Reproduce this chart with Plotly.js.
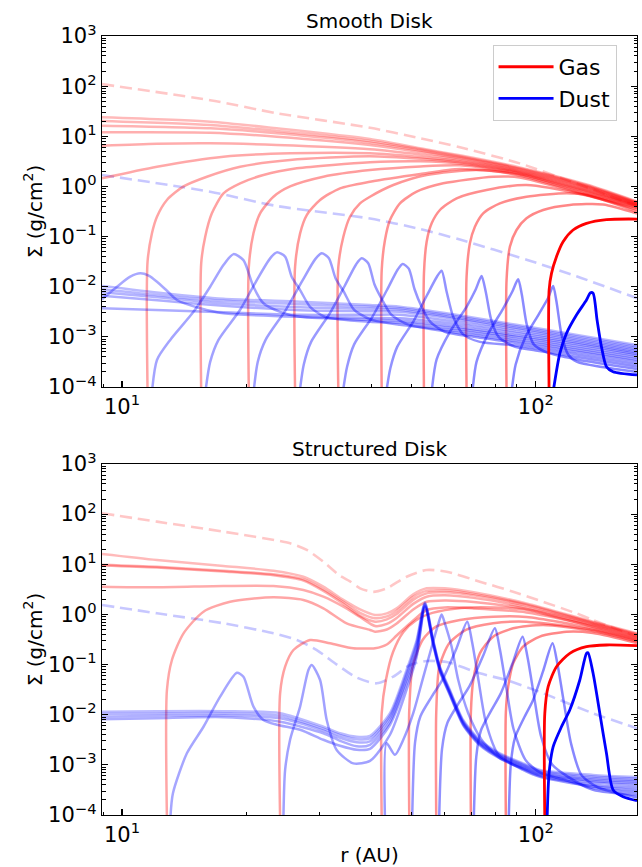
<!DOCTYPE html>
<html>
<head>
<meta charset="utf-8">
<script src="https://cdn.plot.ly/plotly-3.0.1.min.js"></script>
<style>
html,body{margin:0;padding:0;background:#fff;}
#chart{width:642px;height:867px;}
</style>
</head>
<body>
<div id="chart"></div>
<script>
// All values.
// Each point is [log10(r / AU), log10(Sigma / g cm^-2)].

const panelTitles = ['Smooth Disk', 'Structured Disk'];
const legendLabels = ['Gas', 'Dust'];
const yTickVals = [1e-4, 1e-3, 1e-2, 1e-1, 1, 10, 100, 1000];
const yTickText = ['10<sup>\u22124</sup>', '10<sup>\u22123</sup>', '10<sup>\u22122</sup>', '10<sup>\u22121</sup>', '10<sup>0</sup>', '10<sup>1</sup>', '10<sup>2</sup>', '10<sup>3</sup>'];
const xTickVals = [10, 100];
const xTickText = ['10<sup>1</sup>', '10<sup>2</sup>'];

// ---------- Smooth disk ----------
const smoothGasInitial = [[0.9517,2.04],[1.2131,1.72],[1.3741,1.46],[1.5993,1.17],[1.721,0.96],[1.8165,0.78],[1.961,0.46],[2.0982,0.06],[2.2445,-0.40]];
const smoothDustInitial = [[0.9517,0.228],[1.2131,-0.105],[1.3741,-0.39],[1.5993,-0.64],[1.721,-0.85],[1.8165,-1.06],[1.9775,-1.46],[2.0982,-1.79],[2.2445,-2.23]];

const smoothGasProfiles = [
 [[0.9517,1.378],[1.2131,1.291],[1.3741,1.159],[1.5993,0.946],[1.721,0.76],[1.8165,0.62],[1.961,0.38],[2.1229,0.04],[2.2445,-0.30]],
 [[0.9517,1.305],[1.2131,1.225],[1.3741,1.105],[1.5993,0.906],[1.721,0.74],[1.8165,0.60],[1.961,0.365],[2.1229,0.025],[2.2445,-0.31]],
 [[0.9517,1.211],[1.2131,1.159],[1.3741,1.06],[1.5993,0.872],[1.721,0.715],[1.8165,0.58],[1.961,0.35],[2.1229,0.01],[2.2445,-0.32]],
 [[0.9517,1.079],[1.2131,1.071],[1.3741,0.992],[1.5993,0.826],[1.721,0.685],[1.8165,0.56],[1.961,0.335],[2.1229,-0.005],[2.2445,-0.33]],
 [[0.9517,0.812],[1.0845,0.85],[1.2131,0.86],[1.3741,0.826],[1.5993,0.74],[1.721,0.635],[1.8165,0.53],[1.961,0.315],[2.1229,-0.02],[2.2445,-0.34]],
 [[0.9517,0.162],[1.0845,0.393],[1.2452,0.593],[1.4062,0.66],[1.5993,0.66],[1.721,0.585],[1.8165,0.5],[1.961,0.30],[2.1229,-0.04],[2.2445,-0.35]],
 [[1.0618,-4.1],[1.0618,-1.5],[1.0724,-0.935],[1.0845,-0.604],[1.1086,-0.27],[1.1487,0.0],[1.2052,0.194],[1.2855,0.393],[1.4062,0.527],[1.5993,0.60],[1.721,0.55],[1.8165,0.48],[1.961,0.285],[2.1229,-0.06],[2.2445,-0.36]],
 [[1.1914,-4.1],[1.1914,-1.533],[1.2011,-1.003],[1.2172,-0.536],[1.2452,-0.137],[1.2855,0.062],[1.3418,0.228],[1.4224,0.361],[1.5993,0.48],[1.721,0.5],[1.8165,0.455],[1.961,0.27],[2.1229,-0.08],[2.2445,-0.37]],
 [[1.3065,-4.1],[1.3065,-1.6],[1.3177,-0.935],[1.3338,-0.536],[1.366,-0.205],[1.4062,0.0],[1.4866,0.194],[1.5993,0.327],[1.721,0.40],[1.8165,0.42],[1.961,0.255],[2.1229,-0.10],[2.2445,-0.38]],
 [[1.4183,-4.1],[1.4183,-1.6],[1.4304,-0.935],[1.4465,-0.57],[1.4786,-0.27],[1.5269,-0.037],[1.5993,0.094],[1.721,0.25],[1.8165,0.35],[1.961,0.24],[2.1229,-0.12],[2.2445,-0.39]],
 [[1.5228,-4.1],[1.5228,-1.6],[1.5349,-1.003],[1.551,-0.604],[1.5752,-0.337],[1.5993,-0.205],[1.6556,0.028],[1.7362,0.228],[1.8569,0.327],[1.961,0.22],[2.1229,-0.15],[2.2445,-0.41]],
 [[1.6276,-4.1],[1.6276,-1.667],[1.6355,-1.069],[1.6476,-0.67],[1.6717,-0.337],[1.712,-0.105],[1.7762,0.062],[1.8969,0.194],[1.961,0.18],[2.1229,-0.17],[2.2445,-0.43]],
 [[1.7297,-4.1],[1.7297,-1.733],[1.7362,-1.102],[1.7483,-0.736],[1.7683,-0.47],[1.8086,-0.237],[1.881,-0.072],[1.9775,0.028],[2.1229,-0.18],[2.2445,-0.46]],
 [[1.8327,-4.1],[1.8327,-1.8],[1.8407,-1.135],[1.8528,-0.803],[1.8728,-0.536],[1.9131,-0.337],[1.9775,-0.205],[2.0741,-0.137],[2.1229,-0.17],[2.2445,-0.50]],
 [[1.9293,-4.1],[1.9293,-1.866],[1.9373,-1.202],[1.9534,-0.869],[1.9775,-0.636],[2.0177,-0.47],[2.0821,-0.37],[2.1624,-0.36],[2.2445,-0.54]]
];
const smoothGasFinal = [[2.0321,-4.1],[2.0321,-2.066],[2.0379,-1.733],[2.0499,-1.401],[2.0659,-1.102],[2.09,-0.869],[2.1224,-0.736],[2.1707,-0.66],[2.2445,-0.65]];

const smoothDustProfiles = [
 [[0.9517,-1.986],[1.1,-2.13],[1.2452,-2.24],[1.4304,-2.30],[1.5993,-2.365],[1.6717,-2.40],[1.8,-2.55],[1.953,-2.76],[2.1,-2.96],[2.2445,-3.16]],
 [[0.9517,-2.052],[1.1,-2.18],[1.2452,-2.28],[1.4304,-2.35],[1.5993,-2.40],[1.6717,-2.43],[1.8,-2.58],[1.953,-2.79],[2.1,-2.99],[2.2445,-3.19]],
 [[0.9517,-2.112],[1.1,-2.22],[1.2452,-2.33],[1.4304,-2.41],[1.5993,-2.44],[1.6717,-2.46],[1.8,-2.61],[1.953,-2.82],[2.1,-3.02],[2.2445,-3.22]],
 [[0.9517,-2.18],[1.1,-2.28],[1.2452,-2.38],[1.4304,-2.47],[1.5993,-2.49],[1.6717,-2.50],[1.8,-2.64],[1.953,-2.85],[2.1,-3.05],[2.2445,-3.25]],
 [[0.9517,-2.43],[1.1,-2.47],[1.2452,-2.51],[1.4304,-2.56],[1.5993,-2.56],[1.6717,-2.56],[1.8,-2.69],[1.953,-2.89],[2.1,-3.08],[2.2445,-3.28]],
 [[0.9517,-2.252],[0.988,-2.0],[1.02,-1.80],[1.0442,-1.733],[1.0645,-1.78],[1.0845,-1.9],[1.1086,-2.08],[1.1328,-2.265],[1.189,-2.43],[1.2452,-2.53],[1.4304,-2.6],[1.5993,-2.62],[1.6717,-2.63],[1.8,-2.74],[1.953,-2.93],[2.1,-3.11],[2.2445,-3.31]],
 [[1.0724,-4.1],[1.0845,-3.46],[1.1166,-3.06],[1.1728,-2.5],[1.2131,-2.0],[1.2452,-1.567],[1.2694,-1.35],[1.2935,-1.47],[1.3177,-2.0],[1.3418,-2.33],[1.3821,-2.5],[1.4304,-2.6],[1.5993,-2.66],[1.6717,-2.68],[1.8,-2.79],[1.953,-2.97],[2.1,-3.14],[2.2445,-3.34]],
 [[1.2015,-4.1],[1.2131,-3.5],[1.2332,-3.06],[1.2855,-2.46],[1.3258,-1.866],[1.358,-1.434],[1.374,-1.315],[1.3942,-1.40],[1.41,-1.80],[1.4304,-2.066],[1.4545,-2.4],[1.4907,-2.6],[1.5993,-2.7],[1.6717,-2.72],[1.8,-2.83],[1.953,-3.0],[2.1,-3.18],[2.2445,-3.37]],
 [[1.318,-4.1],[1.328,-3.5],[1.347,-3.06],[1.396,-2.46],[1.436,-1.88],[1.467,-1.45],[1.4827,-1.334],[1.5,-1.43],[1.516,-1.83],[1.536,-2.1],[1.56,-2.45],[1.6,-2.65],[1.6717,-2.76],[1.8,-2.87],[1.953,-3.04],[2.1,-3.22],[2.2445,-3.41]],
 [[1.4293,-4.1],[1.4393,-3.55],[1.457,-3.1],[1.503,-2.52],[1.539,-1.97],[1.566,-1.55],[1.5793,-1.434],[1.595,-1.53],[1.61,-1.95],[1.628,-2.25],[1.65,-2.55],[1.69,-2.75],[1.8,-2.91],[1.953,-3.08],[2.1,-3.26],[2.2445,-3.45]],
 [[1.5338,-4.1],[1.5438,-3.6],[1.561,-3.15],[1.605,-2.6],[1.64,-2.07],[1.666,-1.66],[1.6782,-1.547],[1.693,-1.64],[1.707,-2.05],[1.724,-2.4],[1.745,-2.7],[1.78,-2.9],[1.85,-3.0],[1.953,-3.12],[2.1,-3.3],[2.2445,-3.49]],
 [[1.6386,-4.1],[1.6486,-3.62],[1.665,-3.2],[1.705,-2.68],[1.737,-2.17],[1.761,-1.8],[1.7724,-1.68],[1.7845,-2.1],[1.8004,-2.6],[1.8245,-2.95],[1.8648,-3.1],[1.953,-3.17],[2.1,-3.35],[2.2445,-3.54]],
 [[1.7482,-4.1],[1.7603,-3.45],[1.7924,-2.9],[1.8327,-2.4],[1.855,-2.05],[1.8689,-1.787],[1.879,-2.1],[1.892,-2.65],[1.91,-3.0],[1.95,-3.2],[2.0,-3.27],[2.1,-3.4],[2.2445,-3.59]],
 [[1.8467,-4.1],[1.8567,-3.5],[1.884,-2.95],[1.92,-2.45],[1.943,-2.1],[1.9573,-1.853],[1.966,-2.15],[1.978,-2.75],[1.995,-3.15],[2.03,-3.32],[2.1,-3.45],[2.2445,-3.64]],
 [[1.9413,-4.1],[1.9513,-3.55],[1.975,-3.0],[2.007,-2.55],[2.03,-2.22],[2.0418,-1.986],[2.05,-2.3],[2.062,-2.95],[2.078,-3.35],[2.1,-3.5],[2.16,-3.6],[2.2445,-3.7]]
];
const smoothDustFinal = [[2.0418,-4.1],[2.058,-3.33],[2.0741,-2.93],[2.0982,-2.564],[2.1224,-2.265],[2.132,-2.12],[2.1384,-2.13],[2.148,-2.664],[2.1586,-3.197],[2.1707,-3.596],[2.1866,-3.695],[2.2445,-3.76]];

// ---------- Structured disk ----------
const structGasInitial = [[0.9517,2.017],[1.0845,1.85],[1.2452,1.65],[1.4062,1.418],[1.4465,1.285],[1.4866,1.05],[1.5269,0.77],[1.551,0.66],[1.5752,0.52],[1.6073,0.45],[1.6396,0.52],[1.6879,0.752],[1.7362,0.886],[1.7845,0.852],[1.8648,0.653],[1.9452,0.453],[2.0982,0.02],[2.1383,-0.111],[2.2445,-0.444]];
const structDustInitial = [[0.9517,0.188],[1.0845,0.022],[1.2452,-0.177],[1.3659,-0.377],[1.4224,-0.51],[1.4707,-0.71],[1.519,-1.0],[1.5672,-1.26],[1.6155,-1.374],[1.6556,-1.24],[1.6959,-1.009],[1.7362,-0.93],[1.7845,-0.95],[1.8648,-1.175],[1.9293,-1.31],[2.0177,-1.574],[2.1383,-1.973],[2.2445,-2.27]];

const structGasProfiles = [
 [[0.9517,1.205],[1.0845,1.085],[1.2452,0.966],[1.3659,0.872],[1.4384,0.752],[1.4866,0.553],[1.5349,0.29],[1.5752,0.10],[1.6114,-0.01],[1.64,0.02],[1.6638,0.12],[1.7038,0.40],[1.7362,0.52],[1.78,0.52],[1.85,0.44],[1.9775,0.22],[2.1383,-0.145],[2.2445,-0.375]],
 [[0.9517,0.99],[1.0845,0.95],[1.2452,0.87],[1.3659,0.80],[1.4384,0.70],[1.4866,0.50],[1.5349,0.25],[1.5752,0.03],[1.6114,-0.076],[1.64,-0.04],[1.6638,0.07],[1.7038,0.35],[1.7362,0.47],[1.78,0.48],[1.85,0.41],[1.9775,0.2],[2.1383,-0.16],[2.2445,-0.39]],
 [[0.9517,0.975],[1.0845,0.935],[1.2452,0.855],[1.3659,0.78],[1.4384,0.675],[1.4866,0.47],[1.5349,0.21],[1.5752,-0.03],[1.6114,-0.145],[1.64,-0.1],[1.6638,0.01],[1.7038,0.29],[1.7362,0.42],[1.78,0.44],[1.85,0.38],[1.9775,0.18],[2.1383,-0.175],[2.2445,-0.40]],
 [[0.9517,0.553],[1.0845,0.54],[1.2452,0.567],[1.3659,0.567],[1.4384,0.487],[1.4866,0.354],[1.5349,0.154],[1.5752,-0.05],[1.6114,-0.23],[1.64,-0.19],[1.6638,-0.07],[1.7038,0.21],[1.7362,0.353],[1.78,0.38],[1.85,0.33],[1.9775,0.14],[2.1383,-0.19],[2.2445,-0.42]],
 [[1.1086,-4.1],[1.1086,-1.507],[1.1207,-0.909],[1.1487,-0.377],[1.197,0.055],[1.2613,0.254],[1.3659,0.341],[1.4384,0.288],[1.4866,0.122],[1.5429,-0.177],[1.5993,-0.31],[1.6114,-0.345],[1.64,-0.3],[1.6638,-0.18],[1.7038,0.1],[1.7362,0.254],[1.78,0.28],[1.85,0.25],[1.9775,0.11],[2.1383,-0.21],[2.2445,-0.44]],
 [[1.3821,-4.1],[1.3821,-1.573],[1.3942,-1.043],[1.4143,-0.71],[1.4545,-0.51],[1.5027,-0.576],[1.559,-0.676],[1.5993,-0.68],[1.6114,-0.676],[1.64,-0.6],[1.6638,-0.42],[1.7038,-0.12],[1.7362,0.088],[1.78,0.14],[1.85,0.12],[1.9775,0.04],[2.1383,-0.23],[2.2445,-0.46]],
 [[1.6276,-4.1],[1.6276,-1.97],[1.638,-1.3],[1.655,-0.75],[1.68,-0.35],[1.71,-0.12],[1.75,0.03],[1.82,0.13],[1.9,0.14],[1.98,0.09],[2.1383,-0.25],[2.2445,-0.48]],
 [[1.6942,-4.1],[1.6942,-1.9],[1.7022,-1.043],[1.7264,-0.51],[1.7586,-0.245],[1.8165,-0.111],[1.8969,-0.045],[1.9775,-0.05],[2.1383,-0.28],[2.2445,-0.5]],
 [[1.7594,-4.1],[1.7594,-1.95],[1.7667,-1.043],[1.7908,-0.576],[1.831,-0.31],[1.8969,-0.178],[1.9775,-0.145],[2.1383,-0.31],[2.2445,-0.52]],
 [[1.8431,-4.1],[1.8431,-1.95],[1.8489,-1.308],[1.8648,-0.776],[1.897,-0.443],[1.9452,-0.277],[2.0177,-0.21],[2.1383,-0.33],[2.2445,-0.54]],
 [[1.9276,-4.1],[1.9276,-1.95],[1.9332,-1.44],[1.9452,-0.975],[1.9693,-0.643],[2.0096,-0.443],[2.0741,-0.345],[2.1383,-0.37],[2.2445,-0.57]]
];
const structGasFinal = [[2.0217,-4.1],[2.0217,-1.973],[2.0298,-1.44],[2.0499,-1.043],[2.0821,-0.776],[2.1224,-0.643],[2.1707,-0.61],[2.2445,-0.623]];

const structDustProfiles = [
 [[0.9517,-1.94],[1.0845,-1.93],[1.2452,-1.93],[1.3821,-1.97],[1.4866,-2.24],[1.5269,-2.37],[1.5672,-2.44],[1.5993,-2.42],[1.6476,-1.97],[1.6879,-1.1],[1.712,-0.51],[1.7321,0.24],[1.7521,-0.51],[1.7683,-1.043],[1.7924,-1.507],[1.8245,-2.106],[1.8648,-2.505],[1.9131,-2.77],[1.9693,-2.97],[2.0096,-3.1],[2.1383,-3.2],[2.2445,-3.24]],
 [[0.9517,-1.986],[1.0845,-1.975],[1.2452,-1.97],[1.3821,-2.02],[1.4866,-2.28],[1.5269,-2.41],[1.5672,-2.49],[1.5993,-2.47],[1.6476,-2.02],[1.6879,-1.16],[1.712,-0.56],[1.7321,0.22],[1.7521,-0.53],[1.7683,-1.06],[1.7924,-1.53],[1.8245,-2.13],[1.8648,-2.53],[1.9131,-2.79],[1.9693,-2.99],[2.0096,-3.12],[2.1383,-3.23],[2.2445,-3.27]],
 [[0.9517,-2.04],[1.0845,-2.02],[1.2452,-2.01],[1.3821,-2.07],[1.4866,-2.32],[1.5269,-2.46],[1.5672,-2.55],[1.5993,-2.53],[1.6476,-2.07],[1.6879,-1.22],[1.712,-0.62],[1.7321,0.2],[1.7521,-0.55],[1.7683,-1.08],[1.7924,-1.55],[1.8245,-2.15],[1.8648,-2.55],[1.9131,-2.81],[1.9693,-3.01],[2.0096,-3.14],[2.1383,-3.26],[2.2445,-3.30]],
 [[0.9517,-2.09],[1.0845,-2.07],[1.2452,-2.05],[1.3821,-2.14],[1.4866,-2.37],[1.5269,-2.52],[1.5672,-2.63],[1.5993,-2.6],[1.6476,-2.14],[1.6879,-1.3],[1.712,-0.7],[1.7321,0.18],[1.7521,-0.57],[1.7683,-1.1],[1.7924,-1.57],[1.8245,-2.17],[1.8648,-2.57],[1.9131,-2.83],[1.9693,-3.03],[2.0096,-3.16],[2.1383,-3.29],[2.2445,-3.33]],
 [[1.1166,-4.1],[1.123,-3.57],[1.1568,-2.77],[1.197,-2.24],[1.2372,-1.64],[1.2776,-1.163],[1.2935,-1.243],[1.3177,-1.84],[1.3418,-2.106],[1.374,-2.2],[1.4304,-2.3],[1.4866,-2.5],[1.5269,-2.62],[1.5672,-2.7],[1.5993,-2.68],[1.6476,-2.2],[1.6879,-1.38],[1.712,-0.78],[1.7321,0.16],[1.7521,-0.59],[1.7683,-1.12],[1.7924,-1.59],[1.8245,-2.19],[1.8648,-2.59],[1.9131,-2.85],[1.9693,-3.05],[2.0096,-3.18],[2.1383,-3.32],[2.2445,-3.36]],
 [[1.39,-4.1],[1.3942,-3.1],[1.4062,-2.5],[1.4304,-1.84],[1.4505,-1.108],[1.4586,-1.009],[1.4787,-1.308],[1.4947,-2.106],[1.5188,-2.704],[1.559,-2.97],[1.5993,-2.92],[1.6476,-2.4],[1.6879,-1.5],[1.712,-0.85],[1.7321,0.14],[1.7521,-0.61],[1.7683,-1.14],[1.7924,-1.61],[1.8245,-2.21],[1.8648,-2.61],[1.9131,-2.87],[1.9693,-3.07],[2.0096,-3.2],[2.1383,-3.35],[2.2445,-3.40]],
 [[1.6355,-4.1],[1.6395,-2.57],[1.6596,-2.8],[1.6797,-2.5],[1.7038,-1.97],[1.7264,-1.3],[1.75,-0.6],[1.764,-0.2],[1.7724,0.0],[1.781,-0.2],[1.7965,-0.643],[1.8125,-1.308],[1.8367,-1.97],[1.869,-2.5],[1.9131,-2.87],[1.9693,-3.08],[2.0096,-3.22],[2.1383,-3.4],[2.2445,-3.45]],
 [[1.7012,-4.1],[1.7082,-2.55],[1.7212,-2.03],[1.7492,-1.63],[1.7752,-1.29],[1.8072,-0.7],[1.8342,-0.145],[1.8462,-0.56],[1.8622,-1.35],[1.8792,-2.15],[1.91,-2.8],[1.9693,-3.1],[2.0096,-3.24],[2.1383,-3.43],[2.2445,-3.5]],
 [[1.7664,-4.1],[1.7734,-2.68],[1.7864,-2.16],[1.8144,-1.76],[1.8404,-1.42],[1.8724,-0.83],[1.901,-0.277],[1.913,-0.69],[1.929,-1.48],[1.946,-2.28],[1.975,-2.9],[2.0096,-3.15],[2.07,-3.3],[2.1383,-3.46],[2.2445,-3.55]],
 [[1.8501,-4.1],[1.8561,-2.84],[1.8671,-2.32],[1.8921,-1.92],[1.9151,-1.58],[1.9431,-0.99],[1.9679,-0.443],[1.9799,-0.85],[1.9959,-1.64],[2.0129,-2.44],[2.04,-3.0],[2.08,-3.25],[2.1383,-3.5],[2.2445,-3.6]],
 [[1.9346,-4.1],[1.9396,-2.98],[1.9496,-2.46],[1.9716,-2.06],[1.9926,-1.72],[2.0176,-1.13],[2.0403,-0.576],[2.0523,-0.99],[2.0683,-1.78],[2.0853,-2.58],[2.11,-3.2],[2.15,-3.45],[2.2445,-3.65]]
];
const structDustFinal = [[2.0272,-4.1],[2.032,-3.17],[2.0418,-2.64],[2.062,-2.24],[2.082,-1.906],[2.1063,-1.308],[2.1224,-0.776],[2.1262,-0.763],[2.1384,-1.174],[2.1546,-1.97],[2.1707,-2.77],[2.1868,-3.5],[2.2109,-3.635],[2.2445,-3.715]];

// ---------- build traces ----------
const RED = '255,0,0', BLUE = '0,0,255';
function toTrace(pts, rgb, alpha, width, dash, xa, ya, name, showLegend) {
  return {
    type: 'scatter', mode: 'lines',
    x: pts.map(p => Math.pow(10, p[0])),
    y: pts.map(p => Math.pow(10, p[1])),
    xaxis: xa, yaxis: ya,
    line: {color: 'rgba(' + rgb + ',' + alpha + ')', width: width, dash: dash || 'solid', shape: 'spline', smoothing: 0.7},
    name: name || '', showlegend: !!showLegend, hoverinfo: 'skip'
  };
}
function alphaAt(i, n) { return 0.27 + 0.2 * i / Math.max(1, n - 1); }

const traces = [];
function addPanel(gasInit, dustInit, gasProf, dustProf, gasFinal, dustFinal, xa, ya, legend) {
  traces.push(toTrace(gasInit, RED, 0.22, 2.6, '12px,6px', xa, ya));
  traces.push(toTrace(dustInit, BLUE, 0.22, 2.6, '12px,6px', xa, ya));
  gasProf.forEach((c, i) => traces.push(toTrace(c, RED, alphaAt(i, gasProf.length), 2.5, null, xa, ya)));
  dustProf.forEach((c, i) => traces.push(toTrace(c, BLUE, alphaAt(i, dustProf.length), 2.5, null, xa, ya)));
  traces.push(toTrace(gasFinal, RED, 1, 2.8, null, xa, ya, legendLabels[0], legend));
  traces.push(toTrace(dustFinal, BLUE, 1, 2.8, null, xa, ya, legendLabels[1], legend));
}
addPanel(smoothGasInitial, smoothDustInitial, smoothGasProfiles, smoothDustProfiles, smoothGasFinal, smoothDustFinal, 'x2', 'y2', true);
addPanel(structGasInitial, structDustInitial, structGasProfiles, structDustProfiles, structGasFinal, structDustFinal, 'x', 'y', false);

// minor tick positions (axis decoration)
const yMinor = [];
for (let e = -4; e < 3; e++) for (let m = 2; m <= 9; m++) yMinor.push(m * Math.pow(10, e));
const xMinor = [9, 20, 30, 40, 50, 60, 70, 80, 90];

const FONT = 'DejaVu Sans, Liberation Sans, sans-serif';
const xRange = [0.9517, 2.2445];
const yRange = [-4, 3];

function yAxis(domain, anchor) {
  return {
    type: 'log', range: yRange, domain: domain, anchor: anchor,
    tickmode: 'array', tickvals: yTickVals, ticktext: yTickText,
    ticks: 'inside', ticklen: 6, tickwidth: 1.2, tickcolor: '#000',
    minor: {tickmode: 'array', tickvals: yMinor, ticks: 'inside', ticklen: 3.5, tickwidth: 1, tickcolor: '#000', showgrid: false},
    showline: true, linecolor: '#000', linewidth: 1.3, mirror: 'allticks',
    showgrid: false, zeroline: false,
    tickfont: {family: FONT, size: 21, color: '#000'},
    title: {text: '\u03a3 (g/cm<sup>2</sup>)', font: {family: FONT, size: 20, color: '#000'}, standoff: 0}
  };
}
function xAxis(anchor, withTitle) {
  const ax = {
    type: 'log', range: xRange, domain: [0, 1], anchor: anchor,
    tickmode: 'array', tickvals: xTickVals, ticktext: xTickText,
    ticks: 'inside', ticklen: 6, tickwidth: 1.2, tickcolor: '#000',
    minor: {tickmode: 'array', tickvals: xMinor, ticks: 'inside', ticklen: 3.5, tickwidth: 1, tickcolor: '#000', showgrid: false},
    showline: true, linecolor: '#000', linewidth: 1.3, mirror: true,
    showgrid: false, zeroline: false,
    tickfont: {family: FONT, size: 21, color: '#000'}
  };
  if (withTitle) ax.title = {text: 'r (AU)', font: {family: FONT, size: 20, color: '#000'}, standoff: 4};
  return ax;
}

const layout = {
  width: 642, height: 867,
  margin: {l: 102, r: 5, t: 36, b: 52},
  paper_bgcolor: '#fff', plot_bgcolor: '#fff',
  font: {family: FONT, color: '#000'},
  showlegend: true,
  legend: {x: 0.73, y: 0.9885, xanchor: 'left', yanchor: 'top',
           bgcolor: 'rgba(255,255,255,0.85)', bordercolor: '#cccccc', borderwidth: 1,
           itemwidth: 55,
           font: {family: FONT, size: 22, color: '#000'}, tracegroupgap: 0},
  xaxis: xAxis('y', true),
  yaxis: yAxis([0, 0.4506], 'x'),
  xaxis2: xAxis('y2', false),
  yaxis2: yAxis([0.5494, 1], 'x2'),
  annotations: [
    {text: panelTitles[0], xref: 'paper', yref: 'paper', x: 0.5, y: 1, xanchor: 'center', yanchor: 'bottom', yshift: 1, showarrow: false, font: {family: FONT, size: 20, color: '#000'}},
    {text: panelTitles[1], xref: 'paper', yref: 'paper', x: 0.5, y: 0.4506, xanchor: 'center', yanchor: 'bottom', yshift: 1, showarrow: false, font: {family: FONT, size: 20, color: '#000'}}
  ],
  hovermode: false
};

Plotly.newPlot('chart', traces, layout, {staticPlot: true, displayModeBar: false});
</script>
</body>
</html>
